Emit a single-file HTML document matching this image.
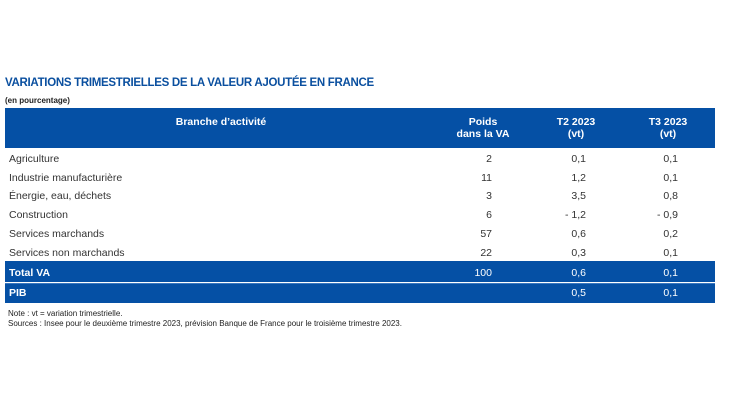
<!DOCTYPE html>
<html><head><meta charset="utf-8"><style>
body{margin:0;width:730px;height:410px;background:#fff;font-family:"Liberation Sans",sans-serif;position:relative;overflow:hidden}
div{position:absolute}
.t{left:5px;top:77px;font-size:11.5px;font-weight:bold;color:#0a4f9f;letter-spacing:-0.3px}
.s{left:5px;top:96px;font-size:8px;font-weight:bold;color:#222}
.hd{left:5px;top:108px;width:710px;height:40px;background:#0550a5}
.h{color:#fff;font-size:10.5px;font-weight:bold;text-align:center;line-height:12px}
.r{font-size:10.5px;color:#333;line-height:12px}
.band{left:5px;width:710px;background:#0550a5}
.w{color:#fff}
.n{font-size:8px;color:#222;left:8px}
</style></head><body>
<div class="t">VARIATIONS TRIMESTRIELLES DE LA VALEUR AJOUTÉE EN FRANCE</div>
<div class="s">(en pourcentage)</div>
<div class="hd"></div>
<div class="h" style="left:121px;width:200px;top:116px">Branche d’activité</div>
<div class="h" style="left:433px;width:100px;top:116px">Poids<br>dans la VA</div>
<div class="h" style="left:536px;width:80px;top:116px">T2 2023<br>(vt)</div>
<div class="h" style="left:628px;width:80px;top:116px">T3 2023<br>(vt)</div>
<div class="band" style="top:261px;height:21px"></div>
<div class="band" style="top:282.5px;height:19.5px;border-top:1px solid #3a78c0"></div>
<div id="rows"></div>
<div class="n" style="top:309px">Note : vt = variation trimestrielle.</div>
<div class="n" style="top:319px">Sources : Insee pour le deuxième trimestre 2023, prévision Banque de France pour le troisième trimestre 2023.</div>
<script>
const labels=["Agriculture","Industrie manufacturière","Énergie, eau, déchets","Construction","Services marchands","Services non marchands","Total VA","PIB"];
const poids=["2","11","3","6","57","22","100",""];
const t2=["0,1","1,2","3,5","- 1,2","0,6","0,3","0,6","0,5"];
const t3=["0,1","0,1","0,8","- 0,9","0,2","0,1","0,1","0,1"];
const tops=[153,172,190,209,228,247,267,287];
const root=document.body;
function cell(txt,style,cls,name){const d=document.createElement('div');d.className=cls;d.textContent=txt;d.style.cssText=style;


root.appendChild(d);}
labels.forEach((l,i)=>{
 const tot=i>=6;const cls='r'+(tot?' w':'');const fw=tot?'font-weight:bold;':'';
 cell(l,'left:9px;top:'+tops[i]+'px;'+fw,cls,'row-label');
 cell(poids[i],'left:392px;width:100px;text-align:right;top:'+tops[i]+'px',cls,'poids-value');
 cell(t2[i],'left:486px;width:100px;text-align:right;top:'+tops[i]+'px',cls,'t2-value');
 cell(t3[i],'left:578px;width:100px;text-align:right;top:'+tops[i]+'px',cls,'t3-value');
});
</script>
</body></html>
